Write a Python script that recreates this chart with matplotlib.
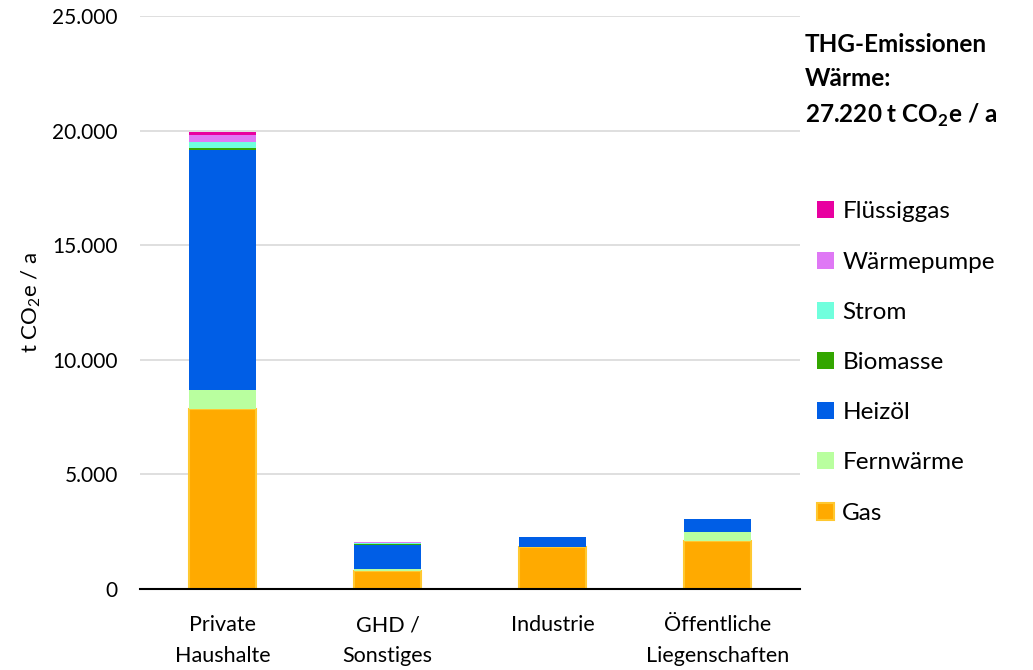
import matplotlib
matplotlib.use("Agg")
import matplotlib.pyplot as plt
from matplotlib.ticker import FuncFormatter

plt.rcParams["font.family"] = ["Lato", "DejaVu Sans"]
plt.rcParams["mathtext.fontset"] = "custom"
plt.rcParams["mathtext.rm"] = "Lato"
plt.rcParams["mathtext.bf"] = "Lato:bold"

categories = ["Private\nHaushalte", "GHD /\nSonstiges", "Industrie", "Öffentliche\nLiegenschaften"]

# t CO2e / a per Sektor und Energieträger (von unten nach oben gestapelt)
gas = [7850, 800, 1850, 2080]
fernwaerme = [830, 50, 0, 420]
heizoel = [10470, 1080, 400, 540]
biomasse = [80, 20, 0, 0]
strom = [270, 40, 0, 0]
waermepumpe = [290, 40, 20, 10]
fluessiggas = [150, 10, 0, 0]

series = [
    ("Gas", gas, "#FFAA00"),
    ("Fernwärme", fernwaerme, "#B9FF9F"),
    ("Heizöl", heizoel, "#005EE6"),
    ("Biomasse", biomasse, "#33A600"),
    ("Strom", strom, "#70FFDD"),
    ("Wärmepumpe", waermepumpe, "#DF78F5"),
    ("Flüssiggas", fluessiggas, "#E800A0"),
]

fig = plt.figure(figsize=(10.33, 6.70), dpi=100)
ax = fig.add_axes([0.1355, 0.121, 0.639, 0.855])

x = list(range(len(categories)))
bottom = [0] * len(categories)
handles = []
for name, vals, color in series:
    if name == "Gas":
        bars = ax.bar(x, vals, 0.41, bottom=bottom, color=color,
                      edgecolor="#FFC830", linewidth=1.5, zorder=3)
    else:
        bars = ax.bar(x, vals, 0.41, bottom=bottom, color=color,
                      linewidth=0, zorder=3)
    handles.append(bars)
    bottom = [b + v for b, v in zip(bottom, vals)]

ax.set_xlim(-0.5, 3.5)
ax.set_ylim(0, 25000)
ax.set_yticks(range(0, 25001, 5000))
ax.yaxis.set_major_formatter(FuncFormatter(lambda v, p: f"{int(v):,}".replace(",", ".")))
ax.set_xticks(x)
ax.set_xticklabels(categories, fontsize=15.5, linespacing=1.67)
ax.tick_params(axis="y", labelsize=15, length=0, pad=16)
ax.tick_params(axis="x", length=0, pad=19)
ax.grid(axis="y", color="#D9D9D9", linewidth=1.2, zorder=0)
for s in ["top", "right", "left"]:
    ax.spines[s].set_visible(False)
ax.spines["bottom"].set_color("black")
ax.spines["bottom"].set_linewidth(1.5)
ax.spines["bottom"].set_zorder(4)

ax.set_ylabel("t CO$_2$e / a", fontsize=16, labelpad=7)

fig.text(0.779, 0.95, "THG-Emissionen\nWärme:\n27.220 t CO$_\\mathbf{2}$e / a",
         fontsize=17.5, fontweight="bold", va="top", ha="left", linespacing=1.55)

fig.legend(handles[::-1], [s[0] for s in series][::-1], loc="upper left",
           bbox_to_anchor=(0.770, 0.732), frameon=False, fontsize=17.5,
           handlelength=0.7, handleheight=0.7, handletextpad=0.33,
           labelspacing=1.2)

fig.savefig("out.png", dpi=100)
